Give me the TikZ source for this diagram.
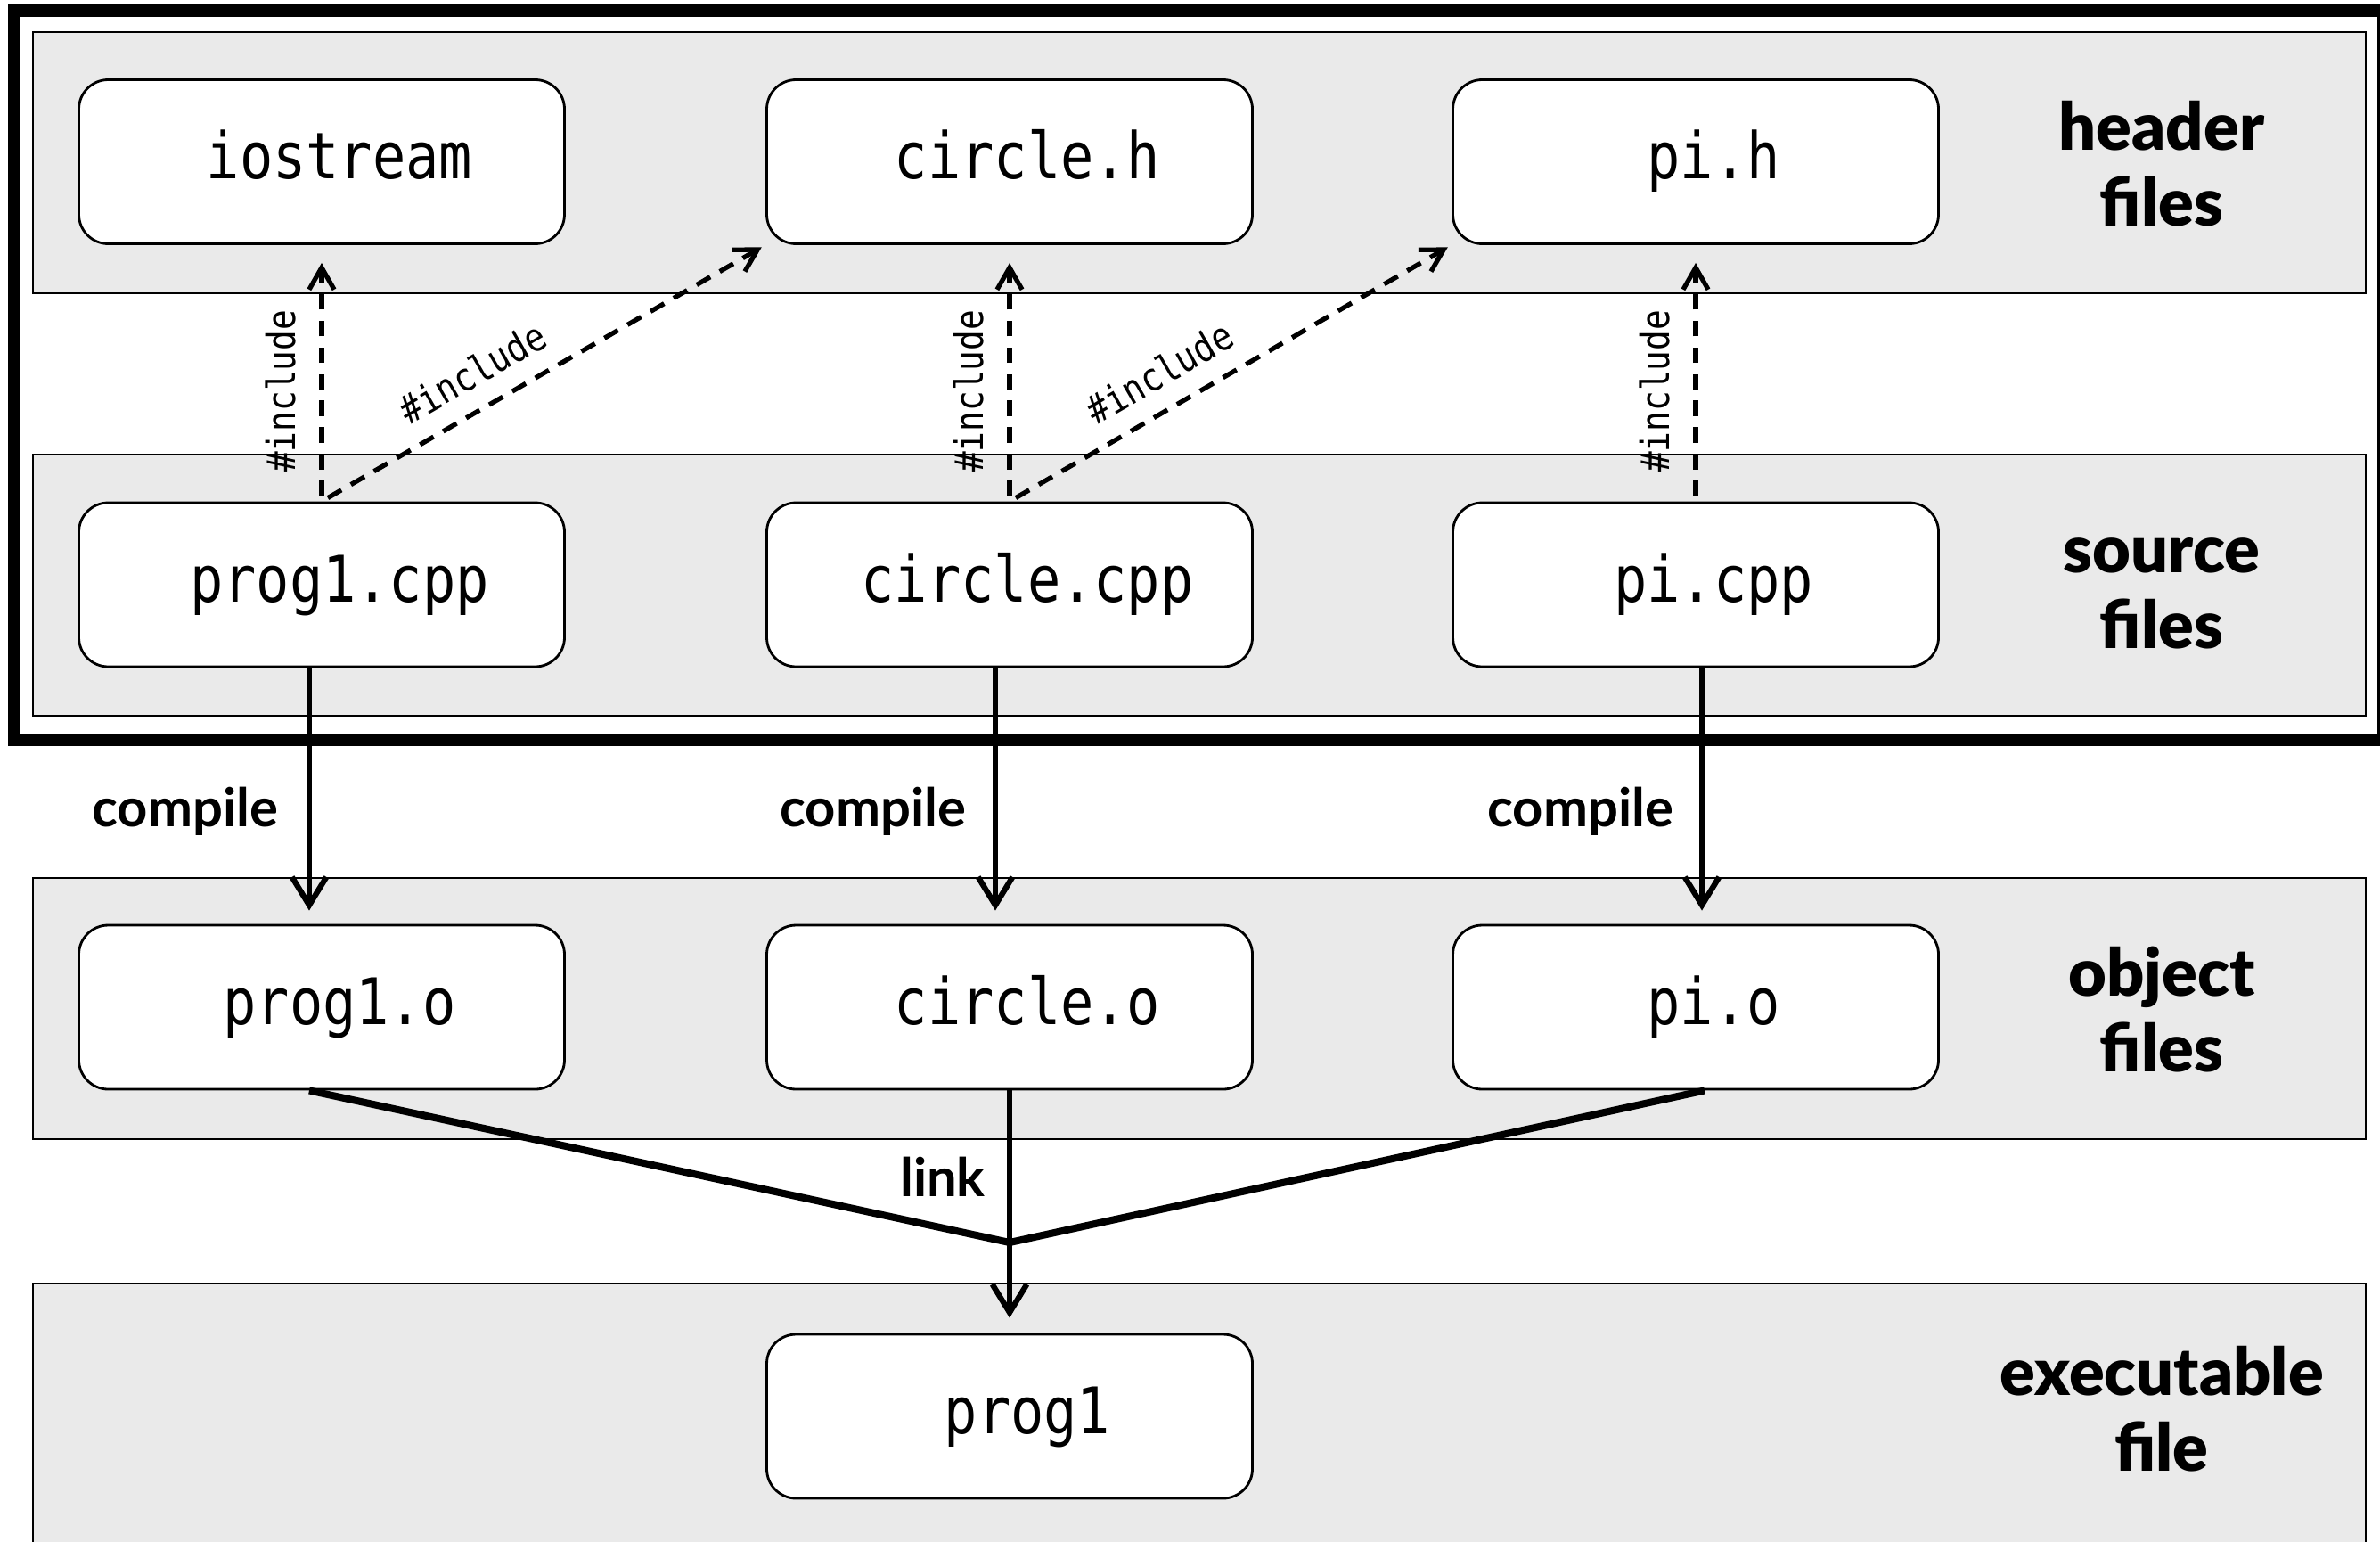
\documentclass[tikz,border=0pt]{standalone}
\usepackage{fontspec}
\setmainfont{Lato}
\newfontfamily\heavyfont{Lato}[UprightFont=* Black]
\newfontfamily\codefont[FakeStretch=0.86]{DejaVu Sans Mono}
\usetikzlibrary{arrows.meta}
\definecolor{bandgray}{HTML}{EAEAEA}

\begin{document}
\begin{tikzpicture}[
  band/.style={draw, line width=0.7pt, fill=bandgray, minimum width=26.18cm, minimum height=2.93cm, inner sep=0pt},
  filebox/.style={draw, fill=white, line width=0.8pt, rounded corners=0.33cm, minimum width=5.45cm, minimum height=1.84cm,
    font=\codefont\fontsize{20.5}{24}\selectfont, text height=1.2em, text depth=0.1em, execute at begin node={\hspace*{4mm}}},
  bandlabel/.style={font=\heavyfont\fontsize{21}{24}\selectfont, align=center, anchor=base},
  steplabel/.style={font=\fontsize{17}{20}\selectfont\bfseries, inner sep=0pt},
  incl/.style={dash pattern=on 5pt off 3.5pt, line width=1.5pt, -{Straight Barb[length=7pt,width=8pt]}},
  incllabel/.style={font=\codefont\fontsize{12.5}{14}\selectfont},
  build/.style={line width=1.8pt, -{Straight Barb[length=9pt,width=11pt]}}
]
\useasboundingbox (0,0) rectangle (26.71,-17.29);

% Bands
\node[band] (hdrband) at (13.46,-1.825) {};
\node[band] (srcband) at (13.46,-6.565) {};
\node[band] (objband) at (13.46,-11.315) {};
\node[band, minimum height=3.4cm] (exeband) at (13.46,-16.10) {};

% Frame round the files we write
\draw[line width=4.2pt] (0.16,-0.115) rectangle (26.75,-8.30);

% Header files
\node[filebox] (iostr) at (3.61,-1.815) {iostream};
\node[filebox] (circh) at (11.33,-1.815) {circle.h};
\node[filebox] (pih) at (19.03,-1.815) {pi.h};

% Source files
\node[filebox] (progcpp) at (3.61,-6.56) {prog1.cpp};
\node[filebox] (circcpp) at (11.33,-6.56) {circle.cpp};
\node[filebox] (picpp) at (19.03,-6.56) {pi.cpp};

% Object files
\node[filebox] (progo) at (3.61,-11.30) {prog1.o};
\node[filebox] (circo) at (11.33,-11.30) {circle.o};
\node[filebox] (pio) at (19.03,-11.30) {pi.o};

% Executable
\node[filebox] (progexe) at (11.33,-15.89) {prog1};

% Band labels (base = last line)
\node[bandlabel] (hdrlabel) at (24.26,-2.53) {header\\files};
\node[bandlabel] (srclabel) at (24.26,-7.27) {source\\files};
\node[bandlabel] (objlabel) at (24.26,-12.02) {object\\files};
\node[bandlabel] (exelabel) at (24.26,-16.50) {executable\\file};

% #include arrows
\foreach \src/\dst in {progcpp/iostr, circcpp/circh, picpp/pih}
  \draw[incl, shorten <=0.06cm, shorten >=0.2cm] (\src.north) -- (\dst.south)
    node[incllabel, pos=0.43, rotate=90, anchor=south, inner sep=0.26cm] {\#include};
\foreach \src/\dst in {progcpp/circh, circcpp/pih}
  \draw[incl, shorten <=0.08cm, shorten >=0.05cm] (\src.north) -- (\dst.south west)
    node[incllabel, pos=0.38, sloped, above, inner sep=6pt] {\#include};

% Compile
\draw[build, shorten >=0.15cm] ([xshift=-1.4mm]progcpp.south) -- ([xshift=-1.4mm]progo.north)
  node[steplabel, pos=0.56, left=0.32cm] {compile};
\draw[build, shorten >=0.15cm] ([xshift=-1.6mm]circcpp.south) -- ([xshift=-1.6mm]circo.north)
  node[steplabel, pos=0.56, left=0.30cm] {compile};
\draw[build, shorten >=0.15cm] ([xshift=0.7mm]picpp.south) -- ([xshift=0.7mm]pio.north)
  node[steplabel, pos=0.56, left=0.29cm] {compile};

% Link
\coordinate (join) at (11.33,-13.94);
\draw[line width=2.3pt] ([xshift=-1.4mm]progo.south) -- (join) -- ([xshift=1mm]pio.south);
\draw[line width=1.8pt] (circo.south) -- (join)
  node[steplabel, pos=0.57, left=0.24cm] {link};
\draw[build, shorten >=0.17cm] (join) -- (progexe.north);

\end{tikzpicture}
\end{document}
